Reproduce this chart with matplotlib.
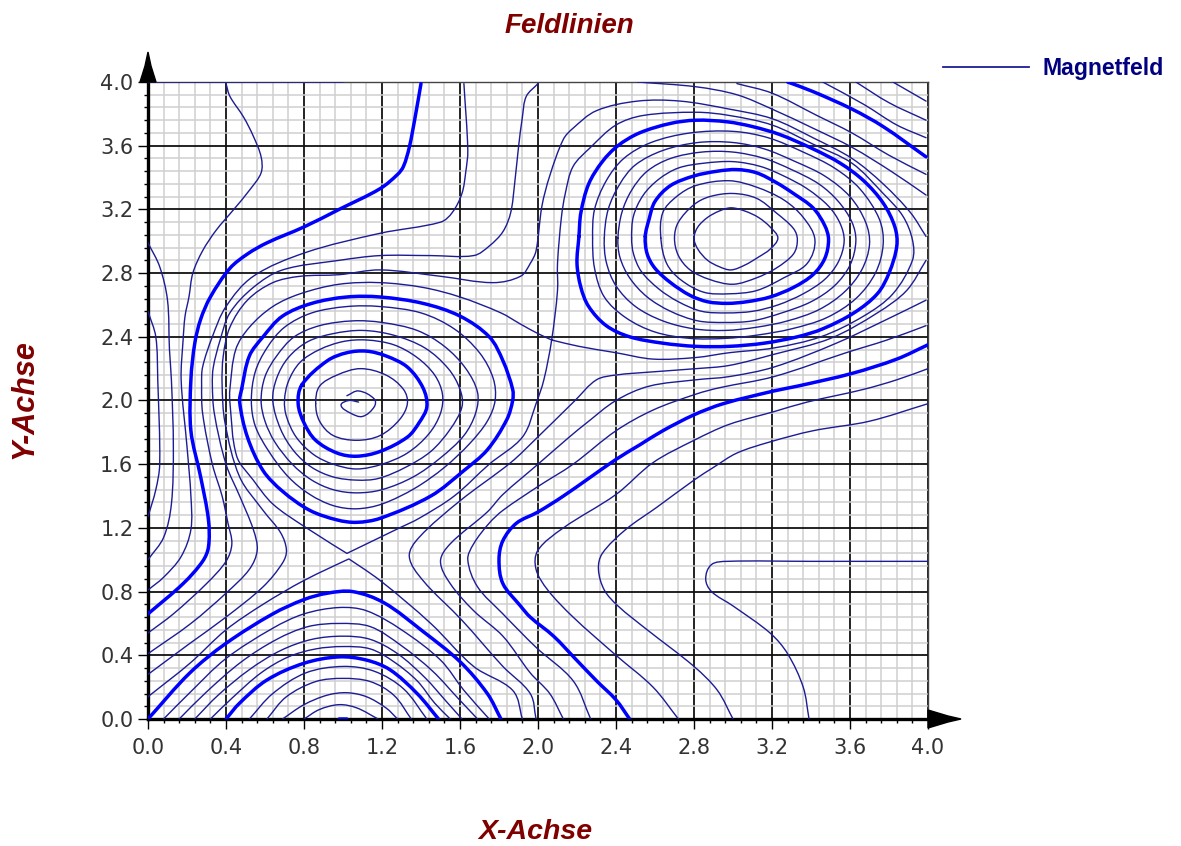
import matplotlib
matplotlib.use("Agg")
import matplotlib.pyplot as plt
from matplotlib.lines import Line2D
from matplotlib.patches import Polygon, PathPatch
from matplotlib.path import Path
import numpy as np

TITLE = "Feldlinien"
X_LABEL = "X-Achse"
Y_LABEL = "Y-Achse"
SERIES_NAME = "Magnetfeld"
TICKS = [0.0, 0.4, 0.8, 1.2, 1.6, 2.0, 2.4, 2.8, 3.2, 3.6, 4.0]

# closed rings around the upper right maximum
B1 = [(2.80,3.02),(2.82,3.09),(2.87,3.15),(2.93,3.19),(2.99,3.21),(3.06,3.19),(3.13,3.15),(3.19,3.09),(3.23,3.02),(3.19,2.95),(3.13,2.90),(3.06,2.85),(2.99,2.82),(2.93,2.84),(2.87,2.88),(2.82,2.95)]
B2 = [(2.70,3.02),(2.72,3.12),(2.80,3.23),(2.88,3.28),(3.00,3.30),(3.12,3.27),(3.22,3.18),(3.31,3.08),(3.33,3.01),(3.31,2.92),(3.22,2.83),(3.12,2.77),(3.00,2.73),(2.88,2.76),(2.78,2.82),(2.72,2.91)]
B3 = [(2.63,3.02),(2.64,3.18),(2.71,3.28),(2.81,3.35),(2.98,3.38),(3.12,3.34),(3.26,3.26),(3.36,3.15),(3.42,3.01),(3.38,2.86),(3.26,2.77),(3.12,2.69),(2.98,2.67),(2.85,2.68),(2.73,2.76),(2.66,2.86)]
B4 = [(2.55,3.03),(2.57,3.14),(2.60,3.25),(2.68,3.35),(2.80,3.41),(2.92,3.44),(3.02,3.45),(3.12,3.43),(3.22,3.37),(3.31,3.30),(3.41,3.21),(3.47,3.10),(3.49,3.01),(3.47,2.89),(3.41,2.79),(3.31,2.71),(3.19,2.65),(3.07,2.62),(2.97,2.61),(2.87,2.62),(2.78,2.66),(2.68,2.74),(2.60,2.83),(2.56,2.92)]
B5 = [(2.48,3.02),(2.49,3.16),(2.54,3.29),(2.62,3.39),(2.72,3.46),(2.85,3.49),(3.00,3.50),(3.14,3.47),(3.26,3.41),(3.38,3.33),(3.49,3.22),(3.55,3.11),(3.57,3.00),(3.54,2.87),(3.47,2.76),(3.36,2.67),(3.23,2.60),(3.10,2.56),(2.97,2.55),(2.84,2.56),(2.72,2.62),(2.62,2.70),(2.53,2.81),(2.49,2.92)]
B6 = [(2.41,3.02),(2.43,3.18),(2.48,3.32),(2.56,3.44),(2.68,3.52),(2.84,3.56),(3.00,3.56),(3.16,3.52),(3.30,3.45),(3.44,3.36),(3.54,3.25),(3.61,3.12),(3.63,3.00),(3.60,2.85),(3.52,2.72),(3.40,2.62),(3.25,2.55),(3.10,2.50),(2.96,2.49),(2.82,2.50),(2.68,2.56),(2.56,2.65),(2.47,2.77),(2.42,2.90)]
B7 = [(2.34,3.02),(2.36,3.20),(2.42,3.36),(2.50,3.48),(2.64,3.57),(2.82,3.62),(3.00,3.62),(3.16,3.58),(3.32,3.50),(3.47,3.41),(3.60,3.28),(3.68,3.12),(3.70,2.98),(3.66,2.82),(3.57,2.68),(3.44,2.57),(3.28,2.50),(3.12,2.46),(2.96,2.44),(2.80,2.45),(2.64,2.50),(2.50,2.59),(2.40,2.72),(2.35,2.87)]
B8 = [(2.28,3.02),(2.29,3.20),(2.35,3.38),(2.44,3.52),(2.58,3.62),(2.78,3.68),(3.00,3.69),(3.18,3.65),(3.36,3.56),(3.52,3.46),(3.65,3.33),(3.75,3.14),(3.77,2.98),(3.73,2.80),(3.63,2.64),(3.48,2.52),(3.30,2.45),(3.12,2.41),(2.96,2.39),(2.78,2.39),(2.60,2.43),(2.45,2.52),(2.34,2.65),(2.29,2.83)]
B9 = [(2.21,3.03),(2.22,3.18),(2.26,3.36),(2.33,3.50),(2.41,3.60),(2.52,3.68),(2.68,3.74),(2.81,3.76),(2.97,3.75),(3.10,3.72),(3.24,3.67),(3.41,3.58),(3.55,3.49),(3.67,3.38),(3.77,3.24),(3.83,3.09),(3.84,2.97),(3.80,2.80),(3.74,2.67),(3.62,2.55),(3.46,2.45),(3.33,2.40),(3.16,2.36),(2.98,2.34),(2.81,2.34),(2.64,2.36),(2.47,2.40),(2.35,2.47),(2.26,2.59),(2.22,2.71),(2.20,2.86)]

# closed rings around the central left maximum
A1 = [(1.02,2.03),(1.08,2.06),(1.16,2.01),(1.16,1.96),(1.10,1.90),(1.04,1.92),(0.99,1.97),(1.03,2.00),(1.08,1.99)]
A2 = [(0.86,1.98),(0.88,2.09),(0.97,2.16),(1.09,2.20),(1.22,2.16),(1.31,2.07),(1.33,1.98),(1.29,1.88),(1.19,1.78),(1.07,1.75),(0.95,1.78),(0.88,1.87)]
A3 = [(0.79,2.10),(0.92,2.25),(1.02,2.30),(1.12,2.31),(1.22,2.28),(1.33,2.21),(1.41,2.08),(1.43,1.96),(1.39,1.86),(1.33,1.77),(1.19,1.68),(1.07,1.65),(0.97,1.67),(0.86,1.75),(0.80,1.86),(0.77,1.98)]
A4 = [(0.70,2.0),(0.72,2.12),(0.78,2.24),(0.88,2.32),(1.00,2.37),(1.12,2.38),(1.26,2.35),(1.38,2.27),(1.47,2.16),(1.51,2.04),(1.50,1.92),(1.44,1.79),(1.33,1.67),(1.20,1.60),(1.07,1.57),(0.95,1.60),(0.85,1.66),(0.76,1.77),(0.71,1.90)]
A5 = [(0.64,2.0),(0.66,2.14),(0.72,2.27),(0.82,2.37),(0.95,2.42),(1.10,2.44),(1.26,2.41),(1.42,2.33),(1.54,2.20),(1.60,2.07),(1.61,1.96),(1.55,1.82),(1.45,1.68),(1.32,1.58),(1.18,1.51),(1.07,1.50),(0.95,1.52),(0.84,1.58),(0.75,1.68),(0.68,1.82)]
A6 = [(0.58,2.0),(0.60,2.15),(0.66,2.28),(0.75,2.40),(0.88,2.47),(1.05,2.50),(1.20,2.49),(1.38,2.44),(1.52,2.34),(1.63,2.20),(1.69,2.05),(1.68,1.92),(1.62,1.78),(1.50,1.64),(1.36,1.52),(1.20,1.44),(1.07,1.42),(0.95,1.44),(0.84,1.50),(0.74,1.60),(0.65,1.74),(0.60,1.87)]
A7 = [(0.53,2.0),(0.55,2.18),(0.61,2.33),(0.70,2.46),(0.84,2.55),(1.02,2.59),(1.19,2.59),(1.40,2.55),(1.57,2.45),(1.70,2.30),(1.77,2.14),(1.78,2.0),(1.74,1.87),(1.65,1.73),(1.52,1.58),(1.37,1.45),(1.20,1.35),(1.07,1.32),(0.95,1.34),(0.83,1.41),(0.72,1.52),(0.62,1.68),(0.55,1.84)]
A8 = [(0.48,2.07),(0.52,2.28),(0.59,2.40),(0.69,2.53),(0.84,2.61),(1.02,2.65),(1.19,2.65),(1.41,2.61),(1.60,2.53),(1.75,2.40),(1.82,2.25),(1.87,2.07),(1.87,2.00),(1.84,1.88),(1.74,1.69),(1.62,1.56),(1.45,1.40),(1.19,1.26),(1.07,1.235),(0.97,1.25),(0.83,1.31),(0.69,1.43),(0.59,1.56),(0.51,1.77),(0.47,1.99)]

# arcs above the lower edge
U0 = [(0.98,0.0),(1.02,0.0)]
U_a = [(0.80,0.0),(0.88,0.06),(0.98,0.09),(1.07,0.07),(1.18,0.0)]
U_b = [(0.69,0.0),(0.80,0.09),(0.92,0.15),(1.02,0.165),(1.12,0.14),(1.22,0.07),(1.28,0.0)]
U_c = [(0.61,0.0),(0.71,0.14),(0.86,0.235),(1.00,0.255),(1.14,0.235),(1.26,0.15),(1.35,0.0)]
U_d = [(0.52,0.0),(0.64,0.16),(0.81,0.29),(1.00,0.33),(1.16,0.30),(1.31,0.19),(1.43,0.0)]
U3 = [(0.40,0.0),(0.47,0.10),(0.61,0.245),(0.80,0.35),(0.98,0.39),(1.12,0.37),(1.24,0.31),(1.38,0.16),(1.49,0.0)]
U4 = [(0.32,0.0),(0.43,0.13),(0.58,0.29),(0.72,0.39),(0.86,0.44),(1.00,0.455),(1.14,0.44),(1.26,0.36),(1.38,0.24),(1.47,0.10),(1.55,0.0)]
U5 = [(0.24,0.0),(0.36,0.15),(0.52,0.31),(0.68,0.43),(0.84,0.50),(1.00,0.52),(1.14,0.50),(1.28,0.41),(1.42,0.26),(1.53,0.11),(1.61,0.0)]
U6 = [(0.16,0.0),(0.30,0.17),(0.48,0.36),(0.66,0.50),(0.82,0.58),(0.98,0.60),(1.14,0.58),(1.30,0.46),(1.46,0.30),(1.59,0.13),(1.69,0.0)]
U7 = [(0.08,0.0),(0.21,0.16),(0.40,0.38),(0.64,0.57),(0.80,0.66),(0.98,0.70),(1.12,0.68),(1.30,0.56),(1.50,0.37),(1.62,0.18),(1.75,0.0)]
U8 = [(0.0,0.0),(0.215,0.29),(0.40,0.475),(0.64,0.66),(0.80,0.75),(0.92,0.79),(1.05,0.80),(1.21,0.73),(1.41,0.55),(1.60,0.36),(1.74,0.16),(1.81,0.0)]
SADDLE_LOW = [(0.0,0.14),(0.215,0.35),(0.40,0.56),(0.59,0.72),(0.80,0.87),(1.03,1.005),(1.19,0.87),(1.45,0.60),(1.67,0.33),(1.87,0.18),(1.92,0.0)]

# long open field lines
TOP_EDGE = [(0.0,4.0),(1.0,4.0)]
LEFT_A = [(0.0,2.56),(0.04,2.40),(0.05,2.13),(0.06,1.60),(0.04,1.44),(0.0,1.27)]
LEFT_B = [(0.0,2.99),(0.06,2.84),(0.10,2.63),(0.11,2.32),(0.12,2.13),(0.13,1.71),(0.12,1.35),(0.08,1.14),(0.0,1.0)]
LEFT_C = [(0.40,3.99),(0.42,3.91),(0.49,3.78),(0.54,3.66),(0.58,3.53),(0.58,3.43),(0.52,3.32),(0.44,3.20),(0.35,3.07),(0.28,2.94),(0.23,2.80),(0.21,2.65),(0.19,2.53),(0.18,2.38),(0.17,2.13),(0.20,1.71),(0.22,1.40),(0.22,1.19),(0.17,1.02),(0.08,0.89),(0.0,0.81)]
T1 = [(1.40,3.99),(1.37,3.78),(1.34,3.59),(1.31,3.47),(1.28,3.42),(1.19,3.33),(0.98,3.20),(0.80,3.09),(0.61,2.99),(0.51,2.92),(0.42,2.83),(0.32,2.65),(0.27,2.51),(0.24,2.36),(0.22,2.13),(0.22,1.81),(0.27,1.52),(0.31,1.25),(0.31,1.08),(0.28,0.99),(0.18,0.85),(0.0,0.66)]
C1 = [(1.62,3.99),(1.64,3.57),(1.63,3.44),(1.61,3.30),(1.56,3.18),(1.50,3.12),(1.19,3.05),(0.81,2.93),(0.54,2.78),(0.40,2.59),(0.33,2.40),(0.28,2.21),(0.275,2.10),(0.28,1.92),(0.33,1.60),(0.38,1.40),(0.41,1.23),(0.43,1.10),(0.40,0.99),(0.30,0.85),(0.13,0.66),(0.0,0.54)]
C2 = [(2.0,3.99),(1.94,3.91),(1.92,3.78),(1.90,3.59),(1.88,3.36),(1.86,3.18),(1.82,3.06),(1.75,2.97),(1.67,2.91),(1.45,2.91),(1.19,2.91),(0.98,2.88),(0.69,2.82),(0.54,2.71),(0.42,2.55),(0.37,2.38),(0.335,2.21),(0.33,2.10),(0.34,1.92),(0.40,1.60),(0.47,1.40),(0.54,1.19),(0.56,1.06),(0.52,0.94),(0.40,0.79),(0.22,0.60),(0.0,0.41)]
L1_PART_A = [(0.0,0.28),(0.215,0.475),(0.40,0.64),(0.59,0.83),(0.69,0.98),(0.71,1.06),(0.68,1.17),(0.59,1.31),(0.47,1.52),(0.395,1.86),(0.38,2.10),(0.386,2.28),(0.42,2.46),(0.51,2.63),(0.64,2.74),(0.78,2.78),(0.98,2.79),(1.19,2.82),(1.50,2.78),(1.77,2.74),(1.91,2.78),(1.96,2.86),(1.99,2.94),(2.02,3.22),(2.06,3.41),(2.13,3.64),(2.18,3.71),(2.30,3.82),(2.51,3.88),(2.73,3.88),(2.98,3.83),(3.20,3.77),(3.41,3.65),(3.61,3.52),(3.77,3.36),(3.91,3.18),(3.99,3.03)]
L1_PART_B = [(3.99,2.88),(3.89,2.69),(3.74,2.55),(3.50,2.39),(3.21,2.29),(2.98,2.22),(2.81,2.20),(2.59,2.18),(2.40,2.16),(2.30,2.13),(2.19,2.00),(1.99,1.76),(1.86,1.61),(1.60,1.37),(1.39,1.14),(1.34,1.02),(1.41,0.87),(1.61,0.62),(1.82,0.33),(1.96,0.16),(1.99,0.0)]
L2_FIGURE = [(2.07,2.38),(2.0,2.42),(1.91,2.48),(1.81,2.55),(1.60,2.65),(1.41,2.71),(1.19,2.74),(0.98,2.73),(0.78,2.67),(0.64,2.59),(0.52,2.46),(0.45,2.32),(0.42,2.07),(0.42,1.99),(0.455,1.65),(0.54,1.50),(0.64,1.35),(0.80,1.21),(1.02,1.04),(1.29,1.20),(1.39,1.26),(1.57,1.40),(1.75,1.60),(1.92,1.77),(1.99,1.98),(2.03,2.13),(2.07,2.38),(2.10,2.69),(2.10,2.86),(2.12,3.15),(2.14,3.30),(2.18,3.47),(2.27,3.59),(2.40,3.73),(2.54,3.79),(2.81,3.81),(2.98,3.79),(3.20,3.73),(3.41,3.61),(3.61,3.49),(3.77,3.30),(3.87,3.16),(3.92,3.01),(3.92,2.88),(3.82,2.67),(3.67,2.53),(3.45,2.40),(3.21,2.33),(2.98,2.30),(2.81,2.27),(2.59,2.26),(2.40,2.30),(2.21,2.34),(2.07,2.38)]
Q_LINE = [(3.99,2.63),(3.79,2.51),(3.53,2.36),(3.21,2.21),(2.98,2.15),(2.81,2.13),(2.57,2.09),(2.40,2.00),(2.25,1.86),(2.16,1.77),(2.0,1.60),(1.82,1.41),(1.74,1.30),(1.55,1.10),(1.50,0.99),(1.55,0.85),(1.67,0.68),(1.82,0.52),(1.96,0.29),(2.06,0.16),(2.13,0.0)]
P_LINE = [(3.99,2.47),(3.79,2.38),(3.58,2.30),(3.21,2.15),(2.93,2.08),(2.81,2.04),(2.59,1.94),(2.40,1.81),(2.18,1.60),(2.0,1.46),(1.82,1.31),(1.75,1.23),(1.67,1.10),(1.64,1.00),(1.69,0.83),(1.82,0.66),(1.99,0.45),(2.18,0.24),(2.27,0.0)]
T2 = [(4.0,2.35),(3.84,2.26),(3.61,2.17),(3.33,2.09),(3.21,2.06),(2.95,1.98),(2.80,1.91),(2.64,1.81),(2.52,1.72),(2.40,1.63),(2.13,1.40),(2.0,1.30),(1.89,1.23),(1.82,1.12),(1.80,1.00),(1.82,0.85),(1.91,0.71),(1.96,0.64),(2.08,0.52),(2.19,0.38),(2.30,0.24),(2.40,0.12),(2.47,0.0)]
R1 = [(4.0,2.20),(3.84,2.13),(3.67,2.07),(3.38,1.99),(3.21,1.93),(2.98,1.85),(2.80,1.75),(2.59,1.61),(2.40,1.41),(2.13,1.20),(2.0,1.06),(1.99,0.94),(2.05,0.81),(2.18,0.64),(2.40,0.40),(2.59,0.20),(2.72,0.0)]
R2 = [(4.0,1.98),(3.70,1.87),(3.41,1.81),(3.19,1.74),(3.02,1.67),(2.90,1.58),(2.80,1.50),(2.61,1.33),(2.45,1.19),(2.33,1.04),(2.31,0.94),(2.34,0.81),(2.41,0.71),(2.56,0.56),(2.80,0.33),(2.92,0.18),(3.0,0.0)]
R3 = [(4.0,0.99),(3.40,0.99),(2.97,0.99),(2.89,0.97),(2.86,0.88),(2.89,0.80),(3.0,0.71),(3.19,0.54),(3.28,0.41),(3.36,0.20),(3.39,0.0)]
L3 = [(2.51,4.0),(2.81,3.97),(3.02,3.92),(3.20,3.83),(3.41,3.71),(3.61,3.59),(3.81,3.44),(3.99,3.29)]
L3B = [(3.02,3.99),(3.20,3.93),(3.43,3.79),(3.61,3.68),(3.80,3.54),(3.99,3.42)]
T3 = [(3.28,4.0),(3.41,3.94),(3.61,3.83),(3.77,3.72),(3.99,3.53)]
NE1 = [(3.46,4.0),(3.67,3.86),(3.84,3.73),(3.99,3.65)]
NE2 = [(3.63,4.0),(3.80,3.87),(3.99,3.76)]
NE3 = [(3.82,4.0),(3.99,3.88)]

RINGS_THIN = [B1, B2, B3, B5, B6, B7, B8, A2, A4, A5, A6, A7]
RINGS_THICK = [B4, B9, A3, A8]
OPEN_THIN = [A1, U_a, U_b, U_c, U_d, U4, U5, U6, U7, SADDLE_LOW, TOP_EDGE, LEFT_A, LEFT_B, LEFT_C,
             C1, C2, L1_PART_A, L1_PART_B, L2_FIGURE, Q_LINE, P_LINE, R1, R2, R3, L3, L3B, NE1, NE2, NE3]
OPEN_THICK = [U0, U3, U8, T1, T2, T3]
SHARP_POINTS = {(1.02,1.04), (1.03,1.005)}

THIN_COLOR = "#1c1c96"
THICK_COLOR = "#0000ff"
DARK_RED = "#800000"
NAVY = "#000080"

W, H = 1181, 846
fig = plt.figure(figsize=(W / 100, H / 100), dpi=100, facecolor="white")
ax = fig.add_axes([148 / W, 1 - 719 / H, 780 / W, 637 / H])
ax.set_xlim(0, 4)
ax.set_ylim(0, 4)

ax.set_xticks(TICKS)
ax.set_yticks(TICKS)
ax.set_xticklabels([f"{t:.1f}" for t in TICKS])
ax.set_yticklabels([f"{t:.1f}" for t in TICKS])
ax.set_xticks(np.arange(0, 4.01, 0.08), minor=True)
ax.set_yticks(np.arange(0, 4.01, 0.08), minor=True)
ax.grid(which="minor", color="#cfcfcf", lw=1.1, zorder=0)
ax.grid(which="major", color="#111111", lw=1.3, zorder=1)
ax.set_axisbelow(True)
ax.tick_params(which="major", length=7.5, width=1.0, color="black", labelsize=15, labelcolor="#333333")
ax.tick_params(axis="x", which="major", pad=6)
ax.tick_params(axis="y", which="major", pad=3)
ax.tick_params(which="minor", length=3, width=1.0, color="black")
for tl in ax.get_xticklabels() + ax.get_yticklabels():
    tl.set_family("DejaVu Sans")

for side in ("left", "bottom"):
    ax.spines[side].set_linewidth(2.4)
    ax.spines[side].set_color("black")
for side in ("top", "right"):
    ax.spines[side].set_linewidth(1.0)
    ax.spines[side].set_color("#444444")


def unit(v):
    n = np.hypot(*v)
    return v / n if n > 0 else v


def smooth_path(points, closed):
    """Bezier path that passes through every read point; the curve is only a rendering of them."""
    P = np.array(points, float)
    n = len(P)
    tang = np.zeros_like(P)
    for i in range(n):
        if closed:
            tang[i] = unit(P[(i + 1) % n] - P[i - 1])
        elif i == 0:
            tang[i] = unit(P[1] - P[0])
        elif i == n - 1:
            tang[i] = unit(P[-1] - P[-2])
        elif tuple(points[i]) in SHARP_POINTS:
            tang[i] = 0
        else:
            tang[i] = unit(P[i + 1] - P[i - 1])
    verts = [P[0]]
    codes = [Path.MOVETO]
    for i in range(n if closed else n - 1):
        a, b = P[i], P[(i + 1) % n]
        d = np.hypot(*(b - a)) / 3
        verts += [a + tang[i] * d, b - tang[(i + 1) % n] * d, b]
        codes += [Path.CURVE4] * 3
    return Path(np.array(verts), codes)


def draw(points, closed, lw, color):
    ax.add_patch(PathPatch(smooth_path(points, closed), facecolor="none", edgecolor=color,
                           lw=lw, joinstyle="round", capstyle="round", zorder=3))


for ring in RINGS_THIN:
    draw(ring, True, 1.0, THIN_COLOR)
for curve in OPEN_THIN:
    draw(curve, False, 1.0, THIN_COLOR)
for ring in RINGS_THICK:
    draw(ring, True, 2.5, THICK_COLOR)
for curve in OPEN_THICK:
    draw(curve, False, 2.5, THICK_COLOR)

# axis arrow heads
ax.add_patch(Polygon([(-8 / 780, 1.0), (8 / 780, 1.0), (3 / 780, 1 + 16 / 637), (0, 1 + 30 / 637), (-3 / 780, 1 + 16 / 637)],
                     closed=True, transform=ax.transAxes, color="black", clip_on=False, zorder=5))
ax.add_patch(Polygon([(1.0, -9 / 637), (1.0, 9 / 637), (1 + 20 / 780, 3 / 637), (1 + 33 / 780, 0), (1 + 20 / 780, -3 / 637)],
                     closed=True, transform=ax.transAxes, color="black", clip_on=False, zorder=5))

bold_italic = dict(family="Liberation Sans", fontweight="bold", fontstyle="italic", color=DARK_RED)
fig.text(569 / W, 1 - 26 / H, TITLE, ha="center", va="center", fontsize=20, **bold_italic)
fig.text(535 / W, 1 - 832 / H, X_LABEL, ha="center", va="center", fontsize=20.5, **bold_italic)
fig.text(24 / W, 1 - 399 / H, Y_LABEL, ha="center", va="center", rotation=90, fontsize=22, **bold_italic)

handle = Line2D([], [], color=THIN_COLOR, lw=1.3, label=SERIES_NAME)
leg = fig.legend(handles=[handle], loc="center left", bbox_to_anchor=(943 / W, 1 - 69 / H), frameon=False,
                 borderaxespad=0, borderpad=0, handlelength=3.75, handletextpad=0.55,
                 prop=dict(family="Liberation Sans", weight="bold", size=16.6))
for t in leg.get_texts():
    t.set_color(NAVY)

fig.savefig("out.png", dpi=100)
